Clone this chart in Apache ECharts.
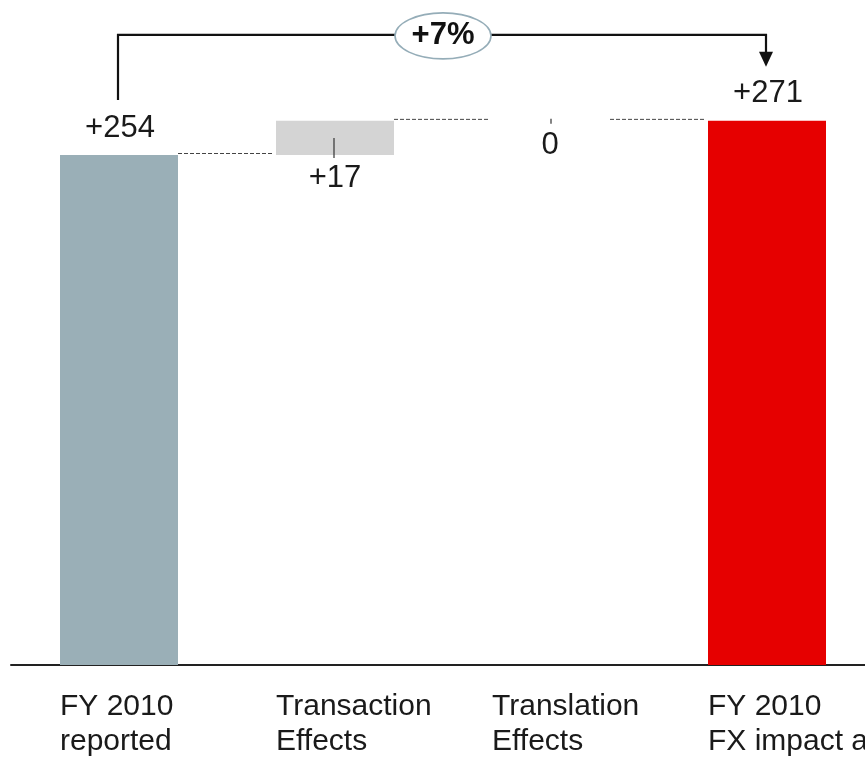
<!DOCTYPE html>
<html>
<head>
<meta charset="utf-8">
<script src="https://cdn.jsdelivr.net/npm/echarts@6/dist/echarts.min.js"></script>
<style>
  html, body { margin: 0; padding: 0; background: #fff; }
  #chart { width: 865px; height: 761px; }
</style>
</head>
<body>
<div id="chart"></div>
<script>
const categories = ['FY 2010\nreported', 'Transaction\nEffects', 'Translation\nEffects', 'FY 2010\nFX impact adjusted']
const stepValues = [254, 17, 0, 271]
const stepKinds = ['total', 'delta', 'delta', 'total']
const valueLabels = ['+254', '+17', '0', '+271']
const growthLabel = '+7%'

const barColors = ['#9aafb7', '#d4d4d4', '#d4d4d4', '#e60000']
const FONT = '"Liberation Sans", Arial, sans-serif'
const BAR_W = 118

// running totals -> invisible base + visible step
const baseValues = []
const endValues = []
let running = 0
stepValues.forEach((v, i) => {
  if (stepKinds[i] === 'total') { baseValues.push(0); running = v }
  else { baseValues.push(running); running += v }
  endValues.push(running)
})

const chart = echarts.init(document.getElementById('chart'))

const renderAnnotations = (params, api) => {
  const i = api.value(0)
  const half = BAR_W / 2
  const p0 = api.coord([i, 0])
  const pTop = api.coord([i, endValues[i]])
  const pBase = api.coord([i, baseValues[i]])
  const children = []

  // category label, left aligned to bar edge
  children.push({
    type: 'text',
    style: {
      text: categories[i], x: p0[0] - half, y: p0[1] + 24,
      align: 'left', verticalAlign: 'top', lineHeight: 35,
      font: '30px ' + FONT, fill: '#1a1a1a'
    }
  })

  // value label + small tick
  const labelStyle = { align: 'center', verticalAlign: 'middle', font: '31px ' + FONT, fill: '#1a1a1a' }
  if (stepKinds[i] === 'total') {
    children.push({ type: 'text', style: Object.assign({ text: valueLabels[i], x: p0[0] + 1, y: pTop[1] - 27 }, labelStyle) })
  } else if (stepValues[i] !== 0) {
    children.push({ type: 'text', style: Object.assign({ text: valueLabels[i], x: p0[0], y: pBase[1] + 23 }, labelStyle) })
    children.push({
      type: 'line',
      shape: { x1: p0[0] - 1, y1: (pTop[1] + pBase[1]) / 2, x2: p0[0] - 1, y2: pBase[1] + 3 },
      style: { stroke: '#333', lineWidth: 1.2 }
    })
  } else {
    children.push({ type: 'text', style: Object.assign({ text: valueLabels[i], x: p0[0] - 1, y: pTop[1] + 25 }, labelStyle) })
    children.push({
      type: 'line',
      shape: { x1: p0[0], y1: pTop[1] - 2, x2: p0[0], y2: pTop[1] + 3 },
      style: { stroke: '#333', lineWidth: 1.2 }
    })
  }

  // dashed connector to next bar
  if (i < categories.length - 1) {
    const next = api.coord([i + 1, endValues[i]])
    children.push({
      type: 'line',
      shape: { x1: p0[0] + half, y1: pTop[1] - 1.5, x2: next[0] - half - 4, y2: pTop[1] - 1.5 },
      style: { stroke: '#444', lineWidth: 1, lineDash: [4, 2] }
    })
  }

  return { type: 'group', children }
}

const renderBracket = (params, api) => {
  const a = api.coord([api.value(0), endValues[api.value(0)]])
  const b = api.coord([api.value(1), endValues[api.value(1)]])
  const lineY = b[1] - 86
  const tipY = b[1] - 54
  const cx = (a[0] + b[0]) / 2
  const stroke = { stroke: '#111', lineWidth: 2.2, fill: 'none' }
  return {
    type: 'group',
    children: [
      {
        type: 'polyline',
        shape: { points: [[a[0] - 1, a[1] - 55], [a[0] - 1, lineY], [b[0] - 1, lineY], [b[0] - 1, tipY - 14]] },
        style: stroke
      },
      {
        type: 'polygon',
        shape: { points: [[b[0] - 8, tipY - 15], [b[0] + 6, tipY - 15], [b[0] - 1, tipY]] },
        style: { fill: '#111' }
      },
      {
        type: 'ellipse',
        shape: { cx: cx, cy: lineY + 1, rx: 48, ry: 23 },
        style: { fill: '#fff', stroke: '#95adb8', lineWidth: 1.6 }
      },
      {
        type: 'text',
        style: {
          text: growthLabel, x: cx, y: lineY + 1, align: 'center', verticalAlign: 'middle',
          font: 'bold 31px ' + FONT, fill: '#111'
        }
      }
    ]
  }
}

const option = {
  animation: false,
  grid: { left: 11, width: 864, top: 62.64, bottom: 96, containLabel: false, outerBoundsMode: 'none' },
  xAxis: {
    type: 'category',
    data: categories,
    axisLine: { lineStyle: { color: '#222', width: 2 } },
    axisTick: { show: false },
    axisLabel: { show: false }
  },
  yAxis: { type: 'value', min: 0, max: 300, show: false, splitLine: { show: false } },
  series: [
    {
      type: 'bar', stack: 'wf', barWidth: BAR_W, silent: true,
      itemStyle: { color: 'transparent' },
      data: baseValues
    },
    {
      type: 'bar', stack: 'wf', barWidth: BAR_W,
      data: stepValues.map((v, i) => ({ value: v, itemStyle: { color: barColors[i] } }))
    },
    {
      type: 'custom', clip: false, z: 5, renderItem: renderAnnotations,
      data: categories.map((c, i) => [i])
    },
    {
      type: 'custom', clip: false, z: 6, renderItem: renderBracket,
      data: [[0, 3]]
    }
  ]
}

chart.setOption(option)
</script>
</body>
</html>
